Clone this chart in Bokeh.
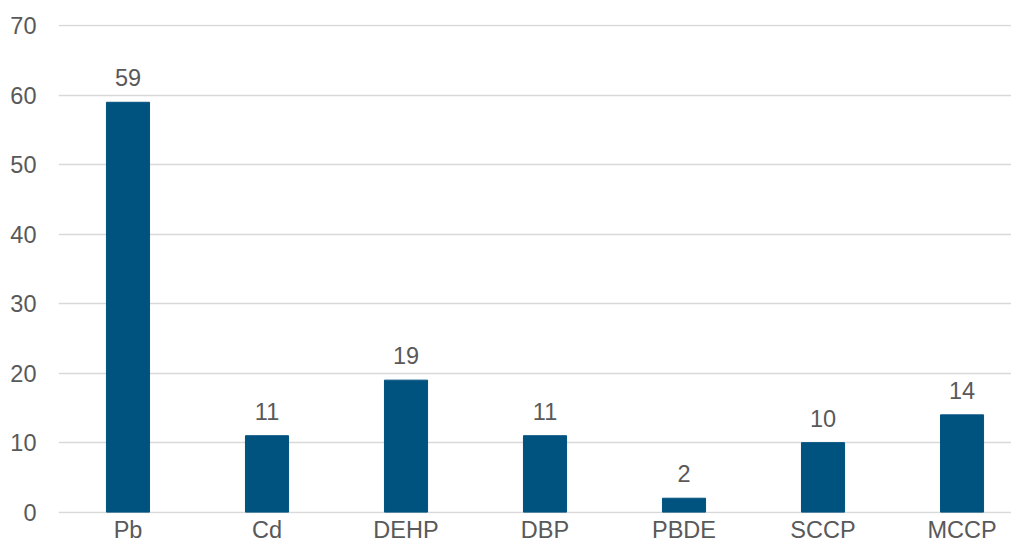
from bokeh.plotting import figure
from bokeh.models import Range1d, FixedTicker, ColumnDataSource
from bokeh.core.properties import value
from bokeh.embed import file_html
from bokeh.resources import INLINE

categories = ["Pb", "Cd", "DEHP", "DBP", "PBDE", "SCCP", "MCCP"]
values = [59, 11, 19, 11, 2, 10, 14]
y_ticks = [0, 10, 20, 30, 40, 50, 60, 70]

xs = [i + 0.5 for i in range(len(categories))]
src = ColumnDataSource(dict(x=xs, top=values, label=[str(v) for v in values]))

FONT = "Liberation Sans"
TXT = "#595959"
FS = "23.5px"

p = figure(width=1011, height=545, output_backend="svg", toolbar_location=None,
           x_range=Range1d(0, 6.856), y_range=Range1d(-0.2, 70.2),
           min_border_left=58, min_border_right=0, min_border_top=24, min_border_bottom=29)
p.outline_line_color = None
p.background_fill_color = "white"

p.vbar(x="x", top="top", width=0.31, color="#00527F", source=src)
p.text(x="x", y="top", text="label", source=src, text_align="center", text_baseline="bottom",
       y_offset=-16, text_font=value(FONT), text_font_size=FS, text_color=TXT)

p.xaxis.ticker = FixedTicker(ticks=xs)
p.xaxis.major_label_overrides = {x: c for x, c in zip(xs, categories)}
p.yaxis.ticker = FixedTicker(ticks=y_ticks)
for ax in (p.xaxis[0], p.yaxis[0]):
    ax.axis_line_color = None
    ax.major_tick_line_color = None
    ax.minor_tick_line_color = None
    ax.major_tick_out = 0
    ax.major_tick_in = 0
    ax.minor_tick_out = 0
    ax.major_label_text_font = FONT
    ax.major_label_text_font_size = FS
    ax.major_label_text_color = TXT
p.xaxis.major_label_standoff = 3
p.yaxis.major_label_standoff = 22

p.xgrid.grid_line_color = None
p.ygrid.grid_line_color = "#d9d9d9"
p.ygrid.grid_line_width = 1.5

open("out.html", "w").write(file_html(p, INLINE))
